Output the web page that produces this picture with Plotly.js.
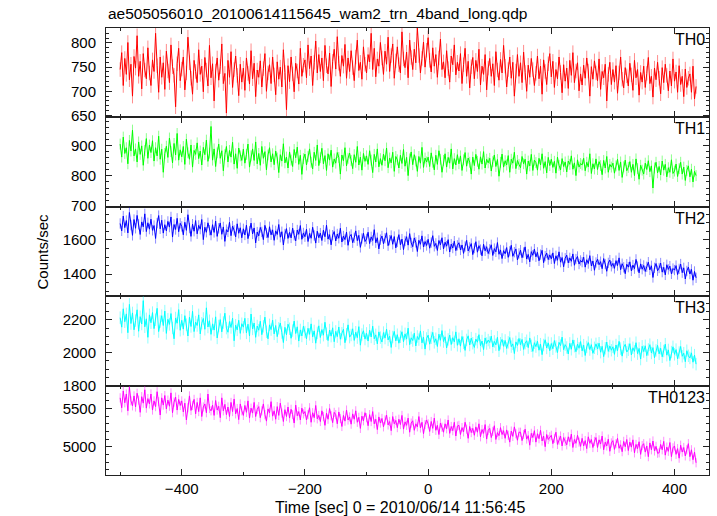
<!DOCTYPE html>
<html><head><meta charset="utf-8">
<script src="https://cdn.plot.ly/plotly-3.0.1.min.js"></script>
<style>html,body{margin:0;padding:0;background:#fff}#chart{width:717px;height:516px}</style>
</head><body><div id="chart"></div>
<script>
const titleText = "ae505056010_20100614115645_wam2_trn_4band_long.qdp";
const xTitle = "Time [sec] 0 = 2010/06/14 11:56:45";
const yTitle = "Counts/sec";
const panelLabels = ["TH0", "TH1", "TH2", "TH3", "TH0123"];

const time = [
-500,-497.5,-495,-492.5,-490,-487.5,-485,-482.5,-480,-477.5,
-475,-472.5,-470,-467.5,-465,-462.5,-460,-457.5,-455,-452.5,
-450,-447.5,-445,-442.5,-440,-437.5,-435,-432.5,-430,-427.5,
-425,-422.5,-420,-417.5,-415,-412.5,-410,-407.5,-405,-402.5,
-400,-397.5,-395,-392.5,-390,-387.5,-385,-382.5,-380,-377.5,
-375,-372.5,-370,-367.5,-365,-362.5,-360,-357.5,-355,-352.5,
-350,-347.5,-345,-342.5,-340,-337.5,-335,-332.5,-330,-327.5,
-325,-322.5,-320,-317.5,-315,-312.5,-310,-307.5,-305,-302.5,
-300,-297.5,-295,-292.5,-290,-287.5,-285,-282.5,-280,-277.5,
-275,-272.5,-270,-267.5,-265,-262.5,-260,-257.5,-255,-252.5,
-250,-247.5,-245,-242.5,-240,-237.5,-235,-232.5,-230,-227.5,
-225,-222.5,-220,-217.5,-215,-212.5,-210,-207.5,-205,-202.5,
-200,-197.5,-195,-192.5,-190,-187.5,-185,-182.5,-180,-177.5,
-175,-172.5,-170,-167.5,-165,-162.5,-160,-157.5,-155,-152.5,
-150,-147.5,-145,-142.5,-140,-137.5,-135,-132.5,-130,-127.5,
-125,-122.5,-120,-117.5,-115,-112.5,-110,-107.5,-105,-102.5,
-100,-97.5,-95,-92.5,-90,-87.5,-85,-82.5,-80,-77.5,
-75,-72.5,-70,-67.5,-65,-62.5,-60,-57.5,-55,-52.5,
-50,-47.5,-45,-42.5,-40,-37.5,-35,-32.5,-30,-27.5,
-25,-22.5,-20,-17.5,-15,-12.5,-10,-7.5,-5,-2.5,
0,2.5,5,7.5,10,12.5,15,17.5,20,22.5,
25,27.5,30,32.5,35,37.5,40,42.5,45,47.5,
50,52.5,55,57.5,60,62.5,65,67.5,70,72.5,
75,77.5,80,82.5,85,87.5,90,92.5,95,97.5,
100,102.5,105,107.5,110,112.5,115,117.5,120,122.5,
125,127.5,130,132.5,135,137.5,140,142.5,145,147.5,
150,152.5,155,157.5,160,162.5,165,167.5,170,172.5,
175,177.5,180,182.5,185,187.5,190,192.5,195,197.5,
200,202.5,205,207.5,210,212.5,215,217.5,220,222.5,
225,227.5,230,232.5,235,237.5,240,242.5,245,247.5,
250,252.5,255,257.5,260,262.5,265,267.5,270,272.5,
275,277.5,280,282.5,285,287.5,290,292.5,295,297.5,
300,302.5,305,307.5,310,312.5,315,317.5,320,322.5,
325,327.5,330,332.5,335,337.5,340,342.5,345,347.5,
350,352.5,355,357.5,360,362.5,365,367.5,370,372.5,
375,377.5,380,382.5,385,387.5,390,392.5,395,397.5,
400,402.5,405,407.5,410,412.5,415,417.5,420,422.5,
425,427.5,430,432.5,435];

const th0 = [
745,780,712,768,735,801,724,756,690,772,
748,815,731,762,705,778,744,726,790,738,
712,765,741,820,753,698,771,729,759,704,
783,742,718,796,751,733,668,757,789,722,
746,771,703,738,812,759,727,694,764,741,
718,786,735,752,699,770,744,711,795,728,
757,680,742,769,723,751,798,716,737,655,
764,729,782,708,745,773,733,691,756,719,
748,702,769,737,715,784,726,758,689,744,
729,763,709,747,778,700,738,755,716,771,
734,693,761,725,750,709,786,739,662,753,
720,771,736,699,758,742,715,789,731,754,
765,728,796,747,773,712,760,804,738,776,
741,769,722,795,753,736,779,710,762,787,
746,813,758,731,774,752,797,727,769,741,
784,749,722,771,806,743,760,725,792,756,
738,776,761,820,745,789,730,767,752,801,
769,735,783,756,812,741,774,798,727,763,
792,755,738,823,767,749,781,728,806,770,
745,787,759,831,774,738,768,802,750,785,
811,764,740,790,752,776,729,769,808,745,
761,728,784,747,719,773,755,796,734,760,
742,778,716,755,789,731,762,707,751,770,
726,764,741,787,713,752,735,776,703,748,
768,731,757,712,782,744,723,766,738,795,
752,709,745,771,727,760,690,742,776,731,
759,718,781,739,700,754,729,768,745,712,
737,773,726,752,694,765,741,714,757,778,
730,762,708,745,726,771,739,697,755,721,
748,706,764,733,780,718,742,759,701,736,
713,754,727,769,742,690,751,725,763,738,
722,767,704,741,728,756,680,735,760,714,
745,719,753,696,738,771,725,707,749,732,
711,758,734,702,764,728,745,692,739,719,
752,708,737,770,716,731,688,748,724,760,
727,695,749,718,756,733,701,742,711,767,
721,740,698,753,714,731,689,746,708,727,
736,698,752,684,710];

const th1 = [
905,862,928,874,893,840,917,882,951,866,
889,846,912,871,899,835,884,923,858,902,
877,916,849,893,866,931,855,888,812,874,
898,861,925,880,843,907,869,940,852,886,
863,897,838,921,876,855,902,829,884,871,
909,857,882,836,894,870,918,848,875,963,
852,889,831,876,905,858,883,817,870,897,
846,884,862,911,839,873,825,892,866,851,
888,842,871,905,829,866,889,851,912,840,
874,835,897,858,880,820,869,893,846,873,
837,882,859,811,870,849,906,843,862,826,
879,852,831,887,860,895,838,868,805,857,
872,836,864,889,845,823,878,851,902,834,
860,891,840,867,818,873,852,885,829,856,
842,877,861,806,869,850,893,833,858,875,
851,824,870,845,897,836,862,819,874,848,
866,838,883,852,811,871,846,889,830,857,
835,872,850,892,827,859,843,878,815,864,
853,826,868,841,887,832,861,801,856,879,
837,870,849,815,864,842,894,828,859,846,
862,831,876,845,820,868,838,883,855,812,
851,873,829,861,842,889,823,857,836,870,
840,866,818,853,877,832,859,845,806,862,
834,871,848,822,863,839,880,826,855,843,
858,816,847,869,831,854,799,845,872,829,
850,836,867,812,855,842,878,824,851,838,
827,864,840,855,806,849,833,871,818,852,
844,819,858,836,873,825,847,810,861,834,
855,828,848,809,862,835,820,857,831,846,
813,849,838,866,822,843,801,853,829,841,
836,858,817,845,830,873,808,840,823,856,
821,847,834,804,851,826,864,812,838,829,
842,809,833,855,818,846,795,830,852,817,
828,847,812,838,801,856,824,789,835,819,
806,842,821,850,814,833,760,826,845,810,
831,803,849,819,838,797,827,812,853,808,
816,839,798,824,845,806,829,785,818,833,
797,822,780,815,801];

const th2 = [
1695,1652,1738,1671,1712,1640,1759,1685,1626,1718,
1667,1742,1690,1631,1704,1676,1751,1648,1699,1662,
1720,1655,1683,1608,1697,1741,1664,1714,1639,1688,
1652,1707,1674,1733,1616,1689,1660,1725,1647,1696,
1678,1629,1702,1655,1746,1668,1620,1691,1650,1712,
1635,1684,1662,1718,1601,1673,1644,1699,1656,1627,
1688,1643,1709,1620,1667,1698,1632,1675,1591,1659,
1646,1702,1624,1680,1655,1617,1693,1638,1670,1612,
1664,1628,1685,1607,1651,1697,1634,1669,1582,1645,
1623,1672,1646,1601,1684,1640,1613,1676,1629,1658,
1597,1652,1631,1689,1615,1647,1570,1634,1665,1608,
1643,1611,1668,1626,1594,1657,1632,1683,1603,1640,
1618,1662,1590,1637,1609,1673,1625,1581,1650,1612,
1639,1596,1656,1618,1685,1604,1630,1571,1627,1648,
1593,1634,1609,1667,1587,1622,1601,1645,1568,1619,
1631,1583,1612,1652,1595,1626,1556,1608,1638,1590,
1605,1644,1578,1617,1596,1659,1583,1612,1547,1601,
1622,1577,1609,1641,1566,1598,1625,1574,1619,1553,
1588,1630,1571,1604,1543,1593,1618,1569,1636,1582,
1560,1611,1585,1532,1597,1574,1623,1558,1590,1567,
1603,1551,1584,1624,1562,1579,1538,1596,1571,1612,
1547,1586,1563,1601,1529,1575,1552,1592,1537,1568,
1583,1541,1570,1521,1561,1597,1535,1556,1578,1514,
1552,1589,1528,1566,1543,1507,1574,1536,1560,1520,
1545,1571,1509,1549,1530,1584,1516,1541,1491,1537,
1519,1555,1498,1533,1568,1504,1528,1547,1483,1521,
1540,1496,1526,1559,1488,1515,1472,1531,1510,1546,
1501,1527,1478,1514,1539,1467,1505,1523,1485,1512,
1489,1524,1462,1507,1481,1530,1470,1497,1443,1493,
1511,1466,1495,1475,1518,1452,1488,1503,1459,1480,
1470,1499,1441,1484,1462,1508,1448,1477,1423,1468,
1487,1455,1473,1432,1491,1459,1417,1466,1482,1446,
1463,1434,1479,1450,1495,1426,1461,1440,1403,1458,
1441,1472,1419,1453,1432,1486,1445,1408,1460,1429,
1451,1416,1443,1470,1425,1449,1381,1437,1462,1420,
1436,1465,1412,1440,1396,1455,1428,1447,1402,1433,
1424,1450,1398,1431,1459,1409,1437,1372,1419,1441,
1401,1428,1365,1416,1379];

const th3 = [
2214,2156,2268,2189,2237,2122,2295,2178,2243,2140,
2196,2262,2131,2220,2175,2318,2158,2207,2094,2231,
2183,2245,2147,2201,2271,2129,2190,2226,2166,2254,
2118,2204,2173,2239,2151,2085,2212,2180,2263,2137,
2198,2144,2226,2171,2102,2217,2160,2253,2129,2187,
2166,2231,2115,2180,2209,2143,2274,2157,2195,2112,
2176,2138,2219,2090,2163,2202,2127,2184,2241,2150,
2125,2190,2154,2211,2073,2168,2139,2198,2118,2177,
2156,2210,2121,2174,2102,2236,2145,2181,2094,2163,
2137,2192,2110,2161,2217,2128,2085,2170,2141,2199,
2115,2166,2098,2149,2181,2123,2062,2155,2109,2174,
2146,2088,2135,2193,2117,2158,2071,2139,2102,2162,
2126,2085,2149,2112,2176,2097,2133,2058,2121,2164,
2093,2141,2107,2186,2116,2074,2138,2101,2152,2067,
2130,2098,2157,2082,2119,2143,2061,2113,2170,2095,
2108,2146,2075,2125,2092,2159,2046,2111,2134,2083,
2118,2071,2137,2096,2162,2085,2109,2054,2127,2092,
2065,2123,2089,2144,2078,2101,2032,2096,2130,2072,
2110,2058,2097,2128,2067,2115,2083,2150,2049,2091,
2074,2119,2041,2099,2080,2133,2060,2095,2022,2087,
2107,2052,2091,2124,2063,2085,2038,2113,2076,2135,
2068,2097,2029,2081,2108,2050,2092,2066,2127,2045,
2085,2040,2099,2061,2014,2078,2103,2047,2089,2058,
2032,2083,2064,2110,2043,2071,2019,2090,2056,2077,
2062,2101,2035,2069,2048,2094,2012,2058,2081,2039,
2075,2026,2063,2093,2037,2054,1995,2066,2044,2087,
2049,2081,2020,2058,2073,2031,2090,2042,2008,2061,
2037,2070,2015,2052,1988,2047,2079,2029,2060,2012,
2056,2024,2074,2038,2001,2063,2043,2095,2018,2049,
2032,1992,2057,2021,2078,2040,2006,2053,2027,2068,
2011,2046,1983,2035,2062,2019,2049,1996,2030,2054,
2023,2058,2003,2039,1976,2027,2065,2008,2041,2015,
2036,1990,2047,2012,2069,2025,1979,2034,2051,2004,
2018,2055,1986,2030,2008,2061,1994,2026,1961,2039,
2007,2042,1982,2020,2049,1998,2031,1969,2014,2045,
1993,2027,1975,2010,2052,1985,2017,1952,2004,2036,
1990,2019,1963,2001,2038,1978,1997,1945,2012,1981,
1968,1999,1942,1985,1930];

const th0123 = [
5640,5510,5730,5575,5690,5470,5780,5600,5535,5665,
5520,5700,5610,5450,5655,5570,5745,5505,5630,5560,
5690,5480,5600,5525,5720,5590,5415,5640,5545,5670,
5495,5610,5530,5705,5445,5585,5650,5480,5620,5540,
5600,5455,5570,5350,5510,5665,5475,5540,5620,5430,
5580,5460,5640,5395,5520,5560,5445,5690,5500,5470,
5545,5410,5605,5480,5530,5380,5640,5470,5555,5420,
5520,5395,5580,5460,5625,5430,5500,5355,5560,5470,
5410,5540,5450,5600,5375,5505,5440,5580,5395,5490,
5525,5380,5470,5560,5420,5335,5495,5445,5590,5400,
5470,5360,5525,5410,5570,5440,5330,5485,5395,5520,
5375,5490,5420,5310,5545,5405,5460,5350,5505,5430,
5460,5350,5420,5510,5320,5445,5380,5540,5365,5410,
5330,5470,5395,5280,5440,5360,5500,5405,5315,5450,
5420,5300,5455,5370,5265,5410,5335,5480,5350,5390,
5295,5430,5360,5470,5320,5385,5240,5400,5340,5445,
5380,5275,5420,5330,5460,5300,5360,5225,5390,5310,
5370,5260,5350,5415,5285,5330,5210,5395,5300,5345,
5250,5360,5290,5410,5230,5325,5280,5375,5190,5310,
5340,5215,5300,5260,5395,5245,5320,5170,5290,5350,
5300,5200,5330,5240,5375,5215,5280,5160,5310,5255,
5190,5300,5235,5350,5175,5265,5210,5320,5140,5270,
5280,5160,5250,5195,5320,5230,5110,5265,5185,5240,
5150,5260,5190,5300,5130,5225,5175,5290,5100,5215,
5240,5120,5200,5275,5095,5185,5145,5250,5160,5210,
5110,5220,5150,5060,5205,5135,5260,5170,5085,5190,
5190,5080,5160,5230,5100,5145,5020,5175,5120,5210,
5060,5170,5105,5215,5075,5140,5000,5160,5095,5130,
5150,5040,5110,5190,5030,5085,5140,5010,5120,5070,
5025,5130,5065,5165,4990,5095,5045,5150,5060,5005,
5110,5010,5080,4975,5130,5045,5095,4990,5070,5120,
4990,5090,5035,5140,4960,5060,5010,5100,4940,5050,
5080,4965,5040,5110,4980,5025,4935,5070,5000,5095,
4950,5060,4995,5090,4920,5030,4975,5065,4900,5015,
5040,4930,5010,4870,5050,4960,5075,4945,5005,4915,
4920,5030,4960,5070,4890,4995,4940,5055,4870,4985,
5010,4900,4975,4850,5020,4930,4990,4880,4960,5040,
4870,4960,4830,4930,4790];

// approximate 1-sigma error bar half-heights
const errTH0 = 15, errTH1 = 18, errTH2 = 30, errTH3 = 38, errTH0123 = 60;

const series = [th0, th1, th2, th3, th0123];
const errors = [errTH0, errTH1, errTH2, errTH3, errTH0123];
const lineColors = ["#ff0000", "#00ff00", "#0000ff", "#00ffff", "#ff00ff"];
const errColors = ["rgba(255,0,0,0.45)", "rgba(0,255,0,0.45)", "rgba(0,0,255,0.45)", "rgba(0,255,255,0.45)", "rgba(255,0,255,0.45)"];
const yRanges = [[646, 831], [698, 993], [1272, 1792], [1799, 2345], [4630, 5800]];
const yDticks = [50, 100, 200, 200, 500];
const yMinor = [10, 20, 50, 50, 100];
const xRange = [-523, 456];

const font = "Liberation Sans, Arial, Helvetica, sans-serif";
const axisColor = "#222";
const traces = [];
const layout = {
  width: 717, height: 516,
  margin: {l: 106, r: 8, t: 28, b: 41},
  paper_bgcolor: "#fff", plot_bgcolor: "#fff",
  showlegend: false,
  font: {family: font, size: 15, color: "#000"},
  title: {text: titleText, font: {family: font, size: 15.5, color: "#000"},
          xref: "container", x: 108/717, xanchor: "left", yref: "container", y: 1 - 14/516, yanchor: "middle"},
  annotations: []
};

for (let i = 0; i < 5; i++) {
  const sfx = i === 0 ? "" : String(i + 1);
  const top = 1 - 0.2 * i, bot = 1 - 0.2 * (i + 1);
  traces.push({
    x: time, y: series[i], xaxis: "x" + sfx, yaxis: "y" + sfx,
    type: "scatter", mode: "lines",
    line: {color: lineColors[i], width: 1},
    error_y: {type: "constant", value: errors[i], color: errColors[i], thickness: 1, width: 0},
    hoverinfo: "skip"
  });
  const xa = {
    domain: [0, 1], anchor: "y" + sfx, range: xRange,
    showline: true, linecolor: axisColor, linewidth: 1, mirror: "allticks",
    ticks: "inside", ticklen: 6, tickwidth: 1, tickcolor: axisColor,
    dtick: 200, tick0: 0, showgrid: false, zeroline: false,
    minor: {ticks: "inside", dtick: 100, tick0: 0, ticklen: 3, tickcolor: axisColor, showgrid: false},
    showticklabels: i === 4,
    tickfont: {family: font, size: 15, color: "#000"}
  };
  if (i > 0) xa.matches = "x";
  layout["xaxis" + sfx] = xa;
  layout["yaxis" + sfx] = {
    domain: [bot, top], anchor: "x" + sfx, range: yRanges[i],
    showline: true, linecolor: axisColor, linewidth: 1, mirror: "allticks",
    ticks: "inside", ticklen: 6, tickwidth: 1, tickcolor: axisColor,
    dtick: yDticks[i], tick0: 0, showgrid: false, zeroline: false,
    minor: {ticks: "inside", dtick: yMinor[i], tick0: 0, ticklen: 3, tickcolor: axisColor, showgrid: false},
    ticklabelstandoff: 6,
    tickfont: {family: font, size: 15, color: "#000"}
  };
  layout.annotations.push({
    text: panelLabels[i], xref: "paper", yref: "paper", x: 1, y: top,
    xanchor: "right", yanchor: "top", xshift: -2, yshift: -1, showarrow: false,
    font: {family: font, size: 16, color: "#000"}
  });
}

layout.annotations.push({
  text: yTitle, xref: "paper", yref: "paper", x: (42 - 106) / 603, y: 0.5,
  xanchor: "center", yanchor: "middle", textangle: -90, showarrow: false,
  font: {family: font, size: 15, color: "#000"}
});
layout.annotations.push({
  text: xTitle, xref: "paper", yref: "paper", x: (400 - 106) / 603, y: (475 - 507) / 447,
  xanchor: "center", yanchor: "middle", showarrow: false,
  font: {family: font, size: 16, color: "#000"}
});

Plotly.newPlot("chart", traces, layout, {displayModeBar: false, staticPlot: true});
</script>
</body></html>
